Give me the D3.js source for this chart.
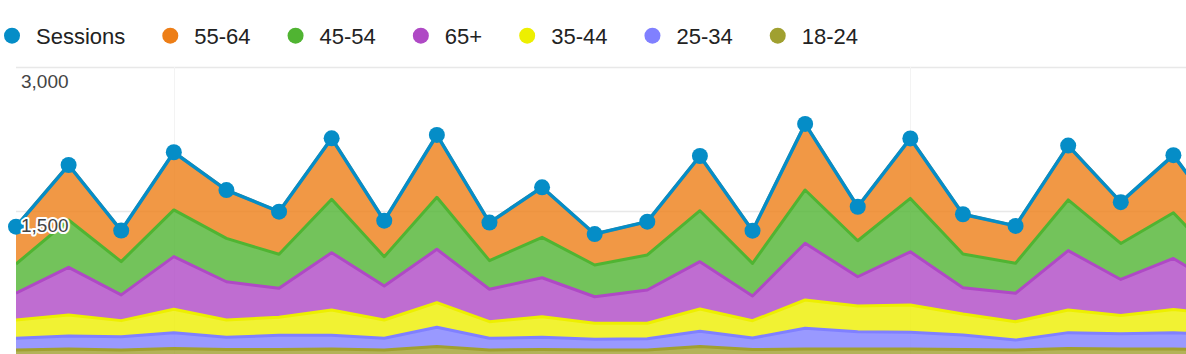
<!DOCTYPE html>
<html><head><meta charset="utf-8">
<script src="https://cdn.jsdelivr.net/npm/d3@7"></script>
<style>
body{margin:0;background:#fff;overflow:hidden}
svg{display:block;font-family:Arial,"Liberation Sans",sans-serif}
</style>
</head><body>
<svg id="chart" width="1186" height="354"></svg>
<script>
// ---- data ----
const categories = ["Day 1","Day 2","Day 3","Day 4","Day 5","Day 6","Day 7","Day 8","Day 9","Day 10","Day 11","Day 12",
  "Day 13","Day 14","Day 15","Day 16","Day 17","Day 18","Day 19","Day 20","Day 21","Day 22","Day 23","Day 24"];
const sessions = [1337,1979,1296,2112,1718,1493,2257,1399,2292,1379,1747,1260,1389,2073,1295,2407,1544,2256,1466,1345,2181,1592,2082,1335];
const age18_24 = [52,62,52,68,57,57,62,52,89,52,57,52,52,89,57,62,62,62,57,52,68,62,62,57];
const age25_34 = [122,135,139,165,127,148,143,122,200,122,127,111,118,158,120,216,180,174,151,104,165,159,170,151];
const age35_44 = [191,219,167,244,180,188,264,191,256,173,215,167,160,232,180,295,268,284,219,191,236,191,243,208];
const age65plus = [278,497,268,548,399,302,597,354,556,338,406,277,347,493,257,591,305,555,274,296,618,375,531,260];
const age45_54 = [305,493,347,486,452,354,556,305,542,298,421,330,365,531,341,555,375,556,351,313,528,375,476,229];
const age55_64 = [389,573,323,601,503,444,635,375,649,396,521,323,347,570,340,688,354,625,414,389,566,430,600,430];
const yTicks = [1500, 3000];
const yTickLabels = ["1,500", "3,000"];
const legendNames = ["Sessions","55-64","45-54","65+","35-44","25-34","18-24"];
const markerCategories = ["Day 4","Day 18"];

// ---- styles ----
const colors = {"Sessions":"#058dc7","55-64":"#ed7e17","45-54":"#50b432","65+":"#af49c5",
  "35-44":"#edef00","25-34":"#8080ff","18-24":"#a0a030"};
const stackKeys = ["18-24","25-34","35-44","65+","45-54","55-64"];
const seriesArrays = {"18-24":age18_24,"25-34":age25_34,"35-44":age35_44,"65+":age65plus,"45-54":age45_54,"55-64":age55_64};

const rows = categories.map((c,i)=>{
  const r = {cat:c, sessions:sessions[i]};
  stackKeys.forEach(k=> r[k]=seriesArrays[k][i]);
  return r;
});

const W = 1186, H = 354;
const svg = d3.select("#chart");
const x = d3.scalePoint().domain(categories).range([16, 1226]);
const y = d3.scaleLinear().domain([0, 3000]).range([355, 67]);

const defs = svg.append("defs");
defs.append("clipPath").attr("id","plotclip").append("rect")
  .attr("x",16).attr("y",0).attr("width",W-16).attr("height",H);

// gridlines
const grid = svg.append("g");
grid.selectAll("line.h").data(yTicks).join("line")
  .attr("x1",16).attr("x2",W).attr("y1",d=>Math.round(y(d))+0.5).attr("y2",d=>Math.round(y(d))+0.5)
  .attr("stroke","#e8e8e8").attr("stroke-width",1.5);
grid.selectAll("line.v").data(markerCategories).join("line")
  .attr("x1",d=>Math.round(x(d))+0.5).attr("x2",d=>Math.round(x(d))+0.5)
  .attr("y1",y(3000)).attr("y2",H)
  .attr("stroke","#f3f3f3").attr("stroke-width",1);

const stack = d3.stack().keys(stackKeys);
const layers = stack(rows);

const plot = svg.append("g").attr("clip-path","url(#plotclip)");
const area = d3.area().x(d=>x(d.data.cat)).y0(d=>y(d[0])).y1(d=>y(d[1]));
const topLine = d3.line().x(d=>x(d.data.cat)).y(d=>y(d[1]));

plot.selectAll("path.area").data(layers).join("path")
  .attr("d",area).attr("fill",d=>colors[d.key]).attr("fill-opacity",0.8).attr("stroke","none");
plot.selectAll("path.tl").data(layers).join("path")
  .attr("d",topLine).attr("fill","none").attr("stroke",d=>colors[d.key]).attr("stroke-width",3)
  .attr("stroke-linejoin","round");

// sessions line + dots
const sLine = d3.line().x((d,i)=>x(categories[i])).y(d=>y(d));
plot.append("path").datum(sessions).attr("d",sLine).attr("fill","none")
  .attr("stroke",colors["Sessions"]).attr("stroke-width",3.5).attr("stroke-linejoin","round");
svg.append("g").selectAll("circle").data(sessions).join("circle")
  .attr("cx",(d,i)=>x(categories[i])).attr("cy",d=>y(d)).attr("r",8)
  .attr("fill",colors["Sessions"]);

// y tick labels
svg.append("g").selectAll("text").data(yTicks).join("text")
  .attr("x",21).attr("y",d=>y(d)+21)
  .attr("font-size",19).attr("fill","#444")
  .attr("stroke","#fff").attr("stroke-width",4).attr("stroke-linejoin","round")
  .attr("paint-order","stroke")
  .text((d,i)=>yTickLabels[i]);

// legend
const leg = svg.append("g");
let cx = 12;
legendNames.forEach(name=>{
  leg.append("circle").attr("cx",cx).attr("cy",35.7).attr("r",8).attr("fill",colors[name]);
  const t = leg.append("text").attr("x",cx+24).attr("y",43.5).attr("font-size",22)
    .attr("fill","#222").text(name);
  const w = t.node().getComputedTextLength();
  cx = cx + 24 + w + 45;
});
</script>
</body></html>
